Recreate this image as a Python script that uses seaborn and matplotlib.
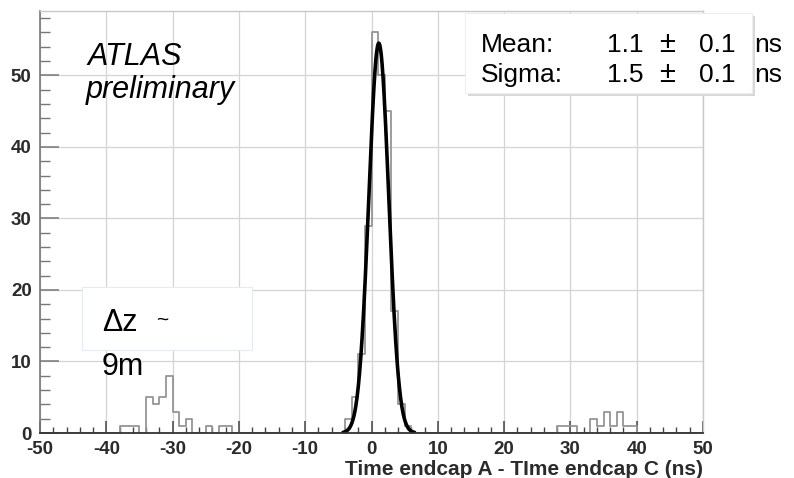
import numpy as np
import pandas as pd
import seaborn as sns
import matplotlib.pyplot as plt
from matplotlib.patches import Rectangle
from matplotlib.ticker import MultipleLocator

# histogram contents, 1 ns bins: left edge of bin -> entries
bin_left = [-38, -37, -36, -34, -33, -32, -31, -30, -29, -28, -25, -23, -22,
            -4, -3, -2, -1, 0, 1, 2, 3, 4, 5,
            28, 29, 30, 33, 34, 35, 36, 37, 38, 39]
entries = [1, 1, 1, 5, 4, 5, 8, 3, 1, 2, 1, 1, 1,
           2, 5, 11, 29, 56, 50, 45, 17, 4, 1,
           1, 1, 1, 2, 1, 3, 1, 3, 1, 1]

# gaussian fit (values from the stats box)
fit_mean = 1.1
fit_sigma = 1.5
fit_amp = 54.5
fit_range = (-4.3, 6.5)

x_ticks = [-50, -40, -30, -20, -10, 0, 10, 20, 30, 40, 50]
y_ticks = [0, 10, 20, 30, 40, 50]

sns.set_style("white")
plt.rcParams['font.family'] = ['Liberation Sans', 'DejaVu Sans']
plt.rcParams['axes.unicode_minus'] = False
plt.rcParams['text.color'] = 'black'

W, H = 794, 478
fig = plt.figure(figsize=(W / 100, H / 100), dpi=100)


def fx(px):
    return px / W


def fy(py):
    return 1 - py / H


ax = fig.add_axes([fx(40), fy(433), (703 - 40) / W, (433 - 11) / H])

df = pd.DataFrame({"t": np.array(bin_left) + 0.5, "n": entries})
sns.histplot(data=df, x="t", weights="n", bins=100, binrange=(-50, 50),
             element="step", fill=False, color="#959595", linewidth=1.3, ax=ax)

xs = np.linspace(fit_range[0], fit_range[1], 300)
ys = fit_amp * np.exp(-0.5 * ((xs - fit_mean) / fit_sigma) ** 2)
sns.lineplot(x=xs, y=ys, color="black", linewidth=2.6, ax=ax)

ax.set_xlim(-50, 50)
ax.set_ylim(0, 59)
ax.set_xticks(x_ticks)
ax.set_yticks(y_ticks)
ax.xaxis.set_minor_locator(MultipleLocator(2))
ax.yaxis.set_minor_locator(MultipleLocator(2))
ax.grid(True, which="major", color="#d4d4d4", linewidth=0.9)
ax.set_axisbelow(True)

ax.tick_params(axis="x", which="both", bottom=True, top=False)
ax.tick_params(axis="y", which="both", left=True, right=False)
ax.tick_params(axis="x", which="major", direction="in", length=9, width=1.1,
               color="#444444", pad=6, labelsize=13.5)
ax.tick_params(axis="x", which="minor", direction="in", length=4.5, width=1.0,
               color="#444444")
ax.tick_params(axis="y", which="major", direction="in", length=14, width=1.1,
               color="#777777", pad=6, labelsize=13.5)
ax.tick_params(axis="y", which="minor", direction="in", length=7, width=1.0,
               color="#777777")
for lab in ax.get_xticklabels() + ax.get_yticklabels():
    lab.set_fontweight("bold")
    lab.set_color("#2b2b2b")

ax.spines["bottom"].set_color("#333333")
ax.spines["bottom"].set_linewidth(1.3)
ax.spines["left"].set_color("#777777")
ax.spines["left"].set_linewidth(1.2)
for s in ["top", "right"]:
    ax.spines[s].set_color("#c8c8c8")
    ax.spines[s].set_linewidth(1.0)

ax.set_ylabel("")
ax.set_xlabel("Time endcap A - TIme endcap C (ns)", loc="right",
              fontsize=15, fontweight="bold", color="#2b2b2b", labelpad=1)

# stats box with shadow
fig.patches.append(Rectangle((fx(468), fy(96)), (752 - 465) / W, (93 - 13) / H,
                             transform=fig.transFigure, facecolor="#d8d8d8",
                             edgecolor="none", zorder=1, figure=fig))
fig.patches.append(Rectangle((fx(465), fy(93)), (752 - 465) / W, (93 - 13) / H,
                             transform=fig.transFigure, facecolor="white",
                             edgecolor="#eeeeee", linewidth=0.8, zorder=1.1,
                             figure=fig))
# delta z box
fig.patches.append(Rectangle((fx(82), fy(350)), (252 - 82) / W, (350 - 287) / H,
                             transform=fig.transFigure, facecolor="white",
                             edgecolor="#e4ecf2", linewidth=0.8, zorder=1.1,
                             figure=fig))

fs = 19
fig.text(fx(481), fy(52), "Mean:", fontsize=fs, va="baseline", zorder=4)
fig.text(fx(481), fy(82), "Sigma:", fontsize=fs, va="baseline", zorder=4)
for yb, v in [(52, "1.1"), (82, "1.5")]:
    fig.text(fx(607), fy(yb), v, fontsize=fs, va="baseline", zorder=4)
    fig.text(fx(659), fy(yb), "\u00b1", fontsize=fs + 2, va="baseline", zorder=4)
    fig.text(fx(699), fy(yb), "0.1", fontsize=fs, va="baseline", zorder=4)
    fig.text(fx(754), fy(yb), "ns", fontsize=fs, va="baseline", zorder=4)

fig.text(fx(88), fy(65), "ATLAS", fontsize=22, style="italic", va="baseline", zorder=4)
fig.text(fx(86), fy(98), "preliminary", fontsize=22, style="italic", va="baseline", zorder=4)

fig.text(fx(102), fy(331), "\u0394z", fontsize=22, va="baseline", zorder=4)
fig.text(fx(156), fy(326), "~", fontsize=15, va="baseline", zorder=4)
fig.text(fx(102), fy(375), "9m", fontsize=22, va="baseline", zorder=4)

fig.savefig("out.png", dpi=100)
